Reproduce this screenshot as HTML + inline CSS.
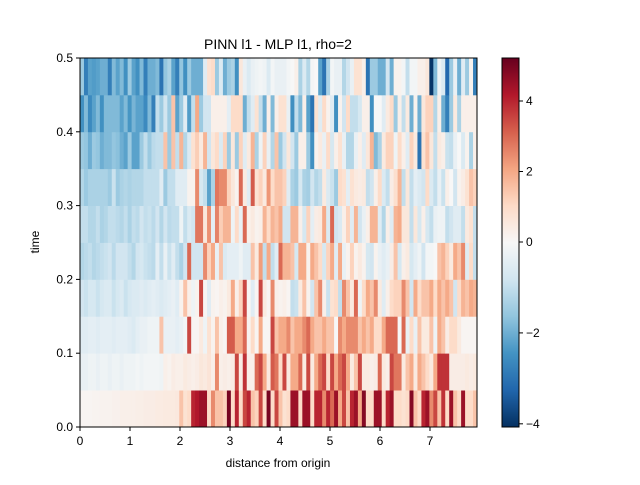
<!DOCTYPE html>
<html><head><meta charset="utf-8"><style>
body{margin:0;background:#fff;font-family:"Liberation Sans",sans-serif}
svg text{font-family:"Liberation Sans",sans-serif;fill:#000}
</style></head><body>
<svg id="c" width="640" height="480" xmlns="http://www.w3.org/2000/svg">
<text x="278" y="49" font-size="14" text-anchor="middle">PINN l1 - MLP l1, rho=2</text>
<text x="278" y="467" font-size="12" text-anchor="middle">distance from origin</text>
<text x="39" y="242" font-size="12" text-anchor="middle" transform="rotate(-90 39 242)">time</text>
<g id="cells"></g>
<g id="cbar"></g>
<g id="axes"></g>
</svg>
<script>
const xTicks=[0,1,2,3,4,5,6,7];
const yTicks=[0,0.1,0.2,0.3,0.4,0.5];
const cbTicks=[-4,-2,0,2,4];
const xMax=7.94, yMax=0.5, vmin=-4.07, vmax=5.22;
const row0=[0.1,0.1,0.1,0.15,0.15,0.2,0.2,0.2,0.25,0.25,0.3,0.3,0.3,0.3,0.35,0.35,0.4,0.4,0.4,0.45,0.45,0.5,0.5,0.5,0.55,1.5,0.8,1.0,4.0,4.2,4.5,4.5,1,2.5,1.5,1.5,1.2,5,1,4,1,3.5,4,1.5,1.2,3.5,1,5,1,3.5,1.5,0.8,1,4.5,4.5,1,4.5,4.5,1,4,4,2.5,4,3,4.5,2,3.5,1.5,4,4.5,2,4.8,1,1,4.5,4.5,1,4,4.5,1,1,0.8,1,4.8,1.5,1,4,4.5,2.5,3.5,1.5,3.8,1,4.5,1.5,1,4.5,1,1,1.5];
const row1=[-0.3,-0.3,-0.2,-0.2,-0.3,-0.2,-0.2,-0.3,-0.2,-0.2,-0.3,-0.2,-0.2,-0.2,-0.1,-0.2,-0.1,-0.1,-0.1,-0.1,-0.2,0.3,0.2,0.4,0.3,0.3,0.5,0.4,0.3,0.4,0.6,0.5,0.7,0.3,2.5,0.3,0.4,0.3,0.4,3.5,0.4,3.8,0.3,0.3,3,3.5,2,0.5,3.2,2.8,1,3.5,0.5,2,2,3,0.5,3.5,0.5,2,3,3.5,1,3.5,2,3,3.5,2,0.5,1.5,3.5,0.5,0.5,0.3,0.4,3,0.5,0.3,3.5,2.8,2.8,0.5,1.5,2,0.5,2,1.5,1,0.5,2,3.8,3.8,3.8,0.4,0.4,0.4,0.4,0.5,0.4,0.5];
const row2=[-0.5,-0.5,-0.4,-0.4,-0.5,-0.4,-0.4,-0.4,-0.5,-0.4,-0.4,-0.4,-0.5,-0.6,-0.4,-0.3,-0.3,-0.2,-0.2,-0.2,1.5,-0.3,-0.3,-0.3,-0.4,-0.3,-0.1,3.5,0.1,0.1,0.5,-0.2,0.8,0.2,1.5,0.3,0.1,3.2,3.2,2,2,3,0.2,1,0.1,2,0.1,0.1,3.5,1.5,2,2,2.5,1.5,2,2,2.5,3,2,1.5,1.5,2,1.5,1.5,0,2.5,2,2.5,2.5,2.5,1.5,2,1.5,2,1,1,2,3,3,3,0,3,-0.3,1,-0.3,1.5,0.5,0.5,1.5,-0.2,2,1.5,0.4,1,1,0.5,0.1,0.1,0.1,0.1];
const row3=[-0.8,-0.9,-0.7,-0.7,-0.9,-0.7,-0.6,-0.6,-0.9,-0.7,-0.6,-0.9,-0.7,-0.6,-0.6,-0.5,-0.6,-0.5,-0.4,-0.5,-0.6,-0.5,-0.4,-0.3,-0.5,0.2,1.5,0.3,-0.2,0.2,3.5,0.1,-0.5,0.2,0.1,0.3,0.2,0.5,2,0.3,1.2,3.5,0.1,-0.5,0.1,3.5,0.5,0.1,2.5,0.3,0.2,0.3,0.1,-1,-0.9,0.5,1.5,0.2,-0.8,1.5,2.5,0.3,-0.9,0.8,1,-1,2.5,1.5,0.5,3,-0.2,1,2,1.5,2.5,0.5,-0.5,0.3,1,1.2,1.2,2.5,1.5,-0.8,2,1,1.5,1.5,2,1,2,1.5,2,1.5,-0.8,1,1.8,1.5,2,1.8];
const row4=[-1.2,-1.1,-1.0,-1.2,-1.1,-1.0,-0.9,-0.8,-1.1,-0.8,-0.8,-0.8,-1.0,-1.2,-0.8,-0.7,-0.9,-1.0,-1.1,-0.4,-1.0,-0.3,-0.9,-0.5,-1.0,-1.3,-0.8,3,-0.8,-0.8,-0.8,2.5,1.2,2,-0.3,1.5,-0.6,-0.4,-0.4,-0.4,-0.2,-0.5,-0.5,1.5,0.5,2.2,-1.0,2,-1.0,-0.5,3,1.8,1.8,1.5,-0.7,2,2,0.2,2,1.5,1,-0.7,1.2,2,-0.5,2,-0.3,0.2,1.2,0.2,0.5,0.2,-0.7,-0.8,0.2,-0.3,-0.5,-0.3,0.4,1.5,-0.7,0.3,0.5,-0.7,-0.4,-0.2,-0.8,-0.1,-0.1,0,1.5,1.8,1.2,0.5,2,1.5,2.5,-0.5,1,-1];
const row5=[-1.0,-1.0,-1.2,-1.2,-1.0,-1.3,-1.2,-1.0,-1.0,-1.1,-1.2,-1.0,-1.3,-1.0,-1.1,-0.8,-1.0,-0.9,-1.1,-0.8,-1.2,-0.8,-1.1,-1.0,-1.0,-0.2,-1.0,-0.6,-0.8,2.8,2.8,0.6,2.4,-0.4,2.6,1.3,1.8,1.8,-0.2,1,-0.3,3,0.3,0.5,0.2,0.3,1.8,1,1.8,1.5,2,-0.8,-0.8,1.8,1.8,0.3,-0.7,1.2,-0.4,0.4,0.5,2,-0.6,3,-0.8,-0.6,0.3,1.2,-0.5,1.8,-0.8,-0.3,0.3,1.8,1.8,-0.5,-1.2,0.3,-0.5,1.8,2,0.6,0.6,-1.0,0.6,-0.7,0.3,-0.7,-1.0,-0.3,-0.2,-0.2,-1.0,-0.8,-0.5,-0.5,-1.0,0.5,0.8,-1.0];
const row6=[-1.2,-1.5,-1.3,-1.3,-1.3,-1.3,-1.3,-1.5,-0.9,-1.5,-1.3,-1.2,-1.3,-1.2,-1.2,-1.2,-1.0,-1.0,-1.0,-1.0,-0.5,-1.5,-1.0,-1.0,-0.5,-0.5,-0.5,0.2,0.2,2.5,-0.7,-1.0,-2.2,-1.3,2.8,2.5,2.5,1.2,0.6,0.2,3,0.5,-0.5,3.2,0.8,1.2,0.5,2.3,1.0,1.5,1.5,1.2,-0.5,-1.3,-1.5,-0.7,-1.3,-1.4,-0.8,-1.2,-1.0,0.5,-0.6,-0.9,-1.5,1.0,0.8,-0.4,0.8,0.5,0.4,0.5,-1.0,-0.8,0.3,1,-0.6,-1.0,0.4,0.9,1.8,-1.0,0.6,-1.0,-0.4,-0.6,-0.8,1,-0.6,-1.0,-0.3,-0.9,0.3,0,-0.8,0.2,0.4,0.8,1.5,1.2];
const row7=[-1.5,-1.6,-2.0,-1.5,-1.6,-2.0,-1.8,-1.8,-1.6,-1.7,-2.0,-2.2,-1.5,-2.2,-2.2,-1.5,-1.0,-1.5,-1.1,-1.0,-1.0,1.5,-1.5,1.5,-1.0,1.8,-1.2,-0.6,0.8,1.3,0.5,1.8,-0.8,0.6,1,-0.6,1.2,-1.5,0.6,-1.5,1.2,-0.5,0.5,1.8,-1.3,-0.2,1.2,-0.3,-1.2,1.5,-1.5,-0.8,0.6,-0.8,-1.5,0.3,0.3,-1.5,-2.5,0.2,0.5,-0.3,1,-0.7,0.3,0.8,-0.3,-1.2,-1.2,-0.3,0.3,-0.5,0.6,1.8,-1.8,-1.3,0.5,1.2,1.2,-0.2,1,0.3,-0.5,1.2,0.5,-3,0.8,1.5,0.6,-1.0,0.5,0.3,-0.9,-1.0,-0.3,0,-0.6,0.2,-1.3,0.3];
const row8=[-2.5,-1.8,-2.6,-2.2,-1.8,-2.5,-1.8,-1.8,-1.8,-1.8,-2.2,-1.8,-2.4,-1.9,-2.2,-2.2,-2.6,-1.8,-2.8,-1.0,-1.5,-0.8,-1.5,1.5,-2.2,-1.5,-0.5,-2.3,-1.0,2,-1.5,-0.8,-0.8,0.3,0.3,0.3,0.3,-0.4,1.0,1.0,1.0,-2.0,-1.0,-0.5,0.8,-1.0,-2.0,0.3,-1.8,0.3,0.8,0.8,-0.3,-2.5,-1.0,-1.8,0.3,-2.2,-3,0.8,-0.5,1,0.2,-0.5,-2.5,0.2,-0.8,1,-1.0,-1.0,-0.7,0.3,0.3,-2.5,0,0,-0.5,0.5,1,-1.5,0.3,-1.0,0.5,-2,0.2,-2,0.6,1.2,1.2,-1.2,0.3,-2,-2.8,-1.5,0.5,-1.3,0.3,0.3,0.3,0.3];
const row9=[-1.5,-2.8,-2.2,-2.3,-2.2,-2.0,-2.0,-2.8,-1.8,-2.2,-1.8,-2.5,-1.5,-2.2,-2.5,-1.8,-2.8,-2.0,-2.0,-1.8,-3.0,-1.6,-1.3,-2.2,-2.8,-1.6,-2.5,-1.5,-2.0,-2.0,-2.0,-0.5,0.8,1,-1.5,-0.6,-2.0,-1.5,-1.3,-2.5,0.6,-0.3,-0.6,-0.3,-0.2,-0.1,-0.2,-0.6,-0.1,-0.3,-0.3,-0.3,-0.1,0,0.3,-1.3,-0.6,-1.2,-0.1,0,-2.2,-3,-1.3,-0.1,-0.3,-0.3,-1.2,-0.8,-0.3,0.8,0.8,0.3,-3,-1.5,-1.5,-2.0,-2.0,-0.8,-2.0,0.2,0.2,-0.1,-1.0,-0.1,-0.1,0.3,0.3,0.6,-4,-1.8,-0.2,-0.6,-3.2,-1.5,-0.3,-2,-0.5,-1.5,0.2,-2.8];
const rows=[row0,row1,row2,row3,row4,row5,row6,row7,row8,row9];

const X0=80,X1=477,Y0=427,Y1=58;
const xs=v=>X0+(v/xMax)*(X1-X0);
const ys=v=>Y0-(v/yMax)*(Y0-Y1);
const stops=["#053061","#2166ac","#4393c3","#92c5de","#d1e5f0","#f7f7f7","#fddbc7","#f4a582","#d6604d","#b2182b","#67001f"];
const hex=h=>[1,3,5].map(i=>parseInt(h.substr(i,2),16));
function norm(v){return v>=0?0.5+0.5*Math.min(v/vmax,1):0.5-0.5*Math.min(v/vmin,1);}
function cmap(t){t=Math.max(0,Math.min(1,t));const p=t*10,i=Math.min(9,Math.floor(p)),f=p-i;
 const a=hex(stops[i]),b=hex(stops[i+1]);return "rgb("+a.map((x,k)=>Math.round(x+(b[k]-x)*f)).join(",")+")";}
const NS="http://www.w3.org/2000/svg";
function mk(tag,attrs,parent){const e=document.createElementNS(NS,tag);for(const k in attrs)e.setAttribute(k,attrs[k]);parent.appendChild(e);return e;}
const cells=document.getElementById('cells');
const nRows=rows.length, dy=yMax/nRows;
rows.forEach((r,ri)=>{const dx=xMax/r.length;
 r.forEach((v,ci)=>{const x0=xs(ci*dx),x1=xs((ci+1)*dx),yT=ys((ri+1)*dy),yB=ys(ri*dy);
  const e=mk('rect',{x:x0,y:yT,width:x1-x0+0.4,height:yB-yT+0.4,fill:cmap(norm(v))},cells);
  
  
 });});
const ax=document.getElementById('axes');
mk('rect',{x:X0,y:Y1,width:X1-X0,height:Y0-Y1,fill:'none',stroke:'#000','stroke-width':1},ax);
xTicks.forEach(t=>{const x=xs(t);mk('line',{x1:x,x2:x,y1:Y0,y2:Y0+4,stroke:'#000'},ax);
 const tx=mk('text',{x:x,y:Y0+18,'font-size':12,'text-anchor':'middle'},ax);tx.textContent=String(t);
 
 });
yTicks.forEach(t=>{const y=ys(t);mk('line',{x1:X0-4,x2:X0,y1:y,y2:y,stroke:'#000'},ax);
 const tx=mk('text',{x:X0-7,y:y+4,'font-size':12,'text-anchor':'end'},ax);tx.textContent=t.toFixed(1);
 
 });
// colorbar
const cb=document.getElementById('cbar');const CX0=502,CX1=519;
const cby=v=>v>=0?242-184*(v/vmax):242+185*(v/vmin);
for(let i=0;i<369;i++){mk('rect',{x:CX0,y:Y1+i,width:CX1-CX0,height:1.2,fill:cmap(1-(i+0.5)/369)},cb);}
mk('rect',{x:CX0,y:Y1,width:CX1-CX0,height:Y0-Y1,fill:'none',stroke:'#000'},cb);
cbTicks.forEach(t=>{const y=cby(t);mk('line',{x1:CX1,x2:CX1+4,y1:y,y2:y,stroke:'#000'},cb);
 const tx=mk('text',{x:CX1+7,y:y+4,'font-size':12},cb);tx.textContent=t<0?'\u2212'+(-t):String(t);
 
 });
</script>
</body></html>
